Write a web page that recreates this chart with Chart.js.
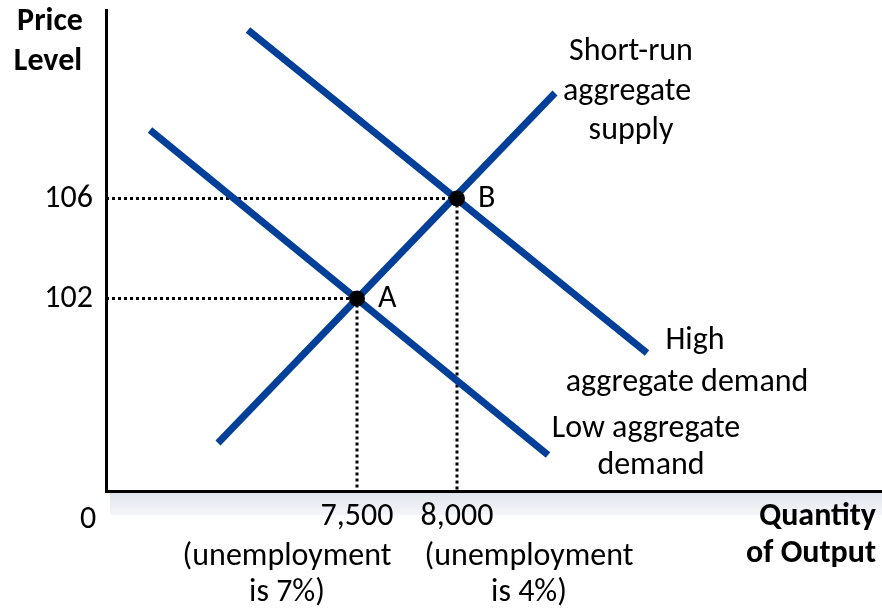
<!DOCTYPE html>
<html>
<head>
<meta charset="utf-8">
<script src="https://cdn.jsdelivr.net/npm/chart.js@4.4.1/dist/chart.umd.min.js"></script>
<style>
html,body{margin:0;padding:0;background:#fff;}
#wrap{width:882px;height:610px;}
</style>
</head>
<body>
<div id="wrap"><canvas id="c" width="882" height="610"></canvas></div>
<script>
// ---- data ----
const xTicks = [7500, 8000];
const xTickLabels = ['7,500', '8,000'];
const xTickNotes = [['(unemployment', 'is 7%)'], ['(unemployment', 'is 4%)']];
const yTicks = [102, 106];
const yTickLabels = ['102', '106'];
const xRange = [6245, 10085];
const yRange = [94.3, 113.54];

const srasX = [6805, 8490];
const srasY = [96.22, 110.22];
const lowAdX = [6465, 8455];
const lowAdY = [108.74, 95.74];
const highAdX = [6955, 8950];
const highAdY = [112.74, 99.82];

const eqNames = ['A', 'B'];
const eqX = [7500, 8000];
const eqY = [102, 106];

const FONT = "Carlito, 'Open Sans', 'Noto Sans', sans-serif";
const BLUE = '#023f98';

const toPts = (xs, ys) => xs.map((x, i) => ({x: x, y: ys[i]}));

const datasets = [];
eqX.forEach((x, i) => {
  datasets.push({data: [{x: xRange[0], y: eqY[i]}, {x: x, y: eqY[i]}], showLine: true, borderColor: '#000', borderWidth: 3, borderDash: [3, 3], pointRadius: 0, order: 5});
  datasets.push({data: [{x: x, y: eqY[i]}, {x: x, y: yRange[0]}], showLine: true, borderColor: '#000', borderWidth: 3, borderDash: [3, 3], pointRadius: 0, order: 5});
});
[[srasX, srasY], [lowAdX, lowAdY], [highAdX, highAdY]].forEach(([xs, ys]) => {
  datasets.push({data: toPts(xs, ys), showLine: true, borderColor: BLUE, borderWidth: 7, pointRadius: 0, order: 3});
});
datasets.push({data: toPts(eqX, eqY), showLine: false, pointRadius: 8, pointHoverRadius: 8, backgroundColor: '#000', borderColor: '#000', borderWidth: 0, order: 1});

const annot = {
  id: 'annot',
  beforeDraw(chart) {
    const ctx = chart.ctx;
    const a = chart.chartArea;
    const g = ctx.createLinearGradient(0, a.bottom + 1, 0, a.bottom + 24);
    g.addColorStop(0, '#dfe3ec');
    g.addColorStop(1, '#f5f6f9');
    ctx.save();
    ctx.fillStyle = g;
    ctx.fillRect(a.left + 4, a.bottom + 1, chart.width - a.left - 4, 23);
    ctx.restore();
  },
  afterDraw(chart) {
    const ctx = chart.ctx;
    const xs = chart.scales.x, ys = chart.scales.y;
    const a = chart.chartArea;
    ctx.save();
    // continue the x axis line to the right edge of the picture (same pixel alignment as the scale border)
    const yLine = Math.round(xs.top - 1.5) + 1.5;
    ctx.strokeStyle = '#000';
    ctx.lineWidth = 3;
    ctx.lineCap = 'butt';
    ctx.beginPath();
    ctx.moveTo(a.right - 4, yLine);
    ctx.lineTo(chart.width, yLine);
    ctx.stroke();
    ctx.fillStyle = '#000';
    const txt = (s, x, y, align, bold, base) => {
      ctx.font = (bold ? 'bold ' : '') + '32px ' + FONT;
      ctx.textAlign = align;
      ctx.textBaseline = base || 'alphabetic';
      ctx.fillText(s, x, y);
    };
    txt('Price', 50, 30, 'center', true);
    txt('Level', 48, 70, 'center', true);
    txt('Quantity', 876, 525, 'right', true);
    txt('of Output', 876, 562, 'right', true);
    txt('0', 88, 528, 'center', false);
    const noteCx = [287, 529];
    xTickNotes.forEach((lines, i) => {
      lines.forEach((l, j) => txt(l, noteCx[i], 565 + j * 36, 'center', false));
    });
    eqNames.forEach((n, i) => {
      txt(n, xs.getPixelForValue(eqX[i]) + 21, ys.getPixelForValue(eqY[i]), 'left', false, 'middle');
    });
    txt('Short-run', 631, 60, 'center', false);
    txt('aggregate', 627, 100, 'center', false);
    txt('supply', 631, 139, 'center', false);
    txt('High', 695, 349, 'center', false);
    txt('aggregate demand', 687, 391, 'center', false);
    txt('Low aggregate', 646, 437, 'center', false);
    txt('demand', 651, 474, 'center', false);
    ctx.restore();
  }
};

new Chart(document.getElementById('c'), {
  type: 'scatter',
  data: {datasets: datasets},
  options: {
    responsive: false,
    animation: false,
    events: [],
    layout: {padding: {top: 10, right: 0, left: 0, bottom: 0}},
    plugins: {legend: {display: false}, tooltip: {enabled: false}},
    scales: {
      x: {
        type: 'linear', min: xRange[0], max: xRange[1],
        afterFit(s) { s.height = 119; s.paddingLeft = 0; s.paddingRight = 0; },
        afterBuildTicks(s) { s.ticks = xTicks.map(v => ({value: v})); },
        grid: {display: false, drawTicks: false, tickLength: 0},
        border: {display: true, color: '#000', width: 3},
        ticks: {
          autoSkip: false, maxRotation: 0, padding: 7, color: '#000',
          font: {family: FONT, size: 32, lineHeight: 1.2},
          callback(v) { const i = xTicks.indexOf(v); return i >= 0 ? xTickLabels[i] : ''; }
        }
      },
      y: {
        type: 'linear', min: yRange[0], max: yRange[1],
        afterFit(s) { s.width = 106; s.paddingTop = 0; s.paddingBottom = 0; },
        afterBuildTicks(s) { s.ticks = yTicks.map(v => ({value: v})); },
        grid: {display: false, drawTicks: false, tickLength: 0},
        border: {display: true, color: '#000', width: 3},
        ticks: {
          autoSkip: false, padding: 13, color: '#000',
          font: {family: FONT, size: 32},
          callback(v) { const i = yTicks.indexOf(v); return i >= 0 ? yTickLabels[i] : ''; }
        }
      }
    }
  },
  plugins: [annot]
});
</script>
</body>
</html>
